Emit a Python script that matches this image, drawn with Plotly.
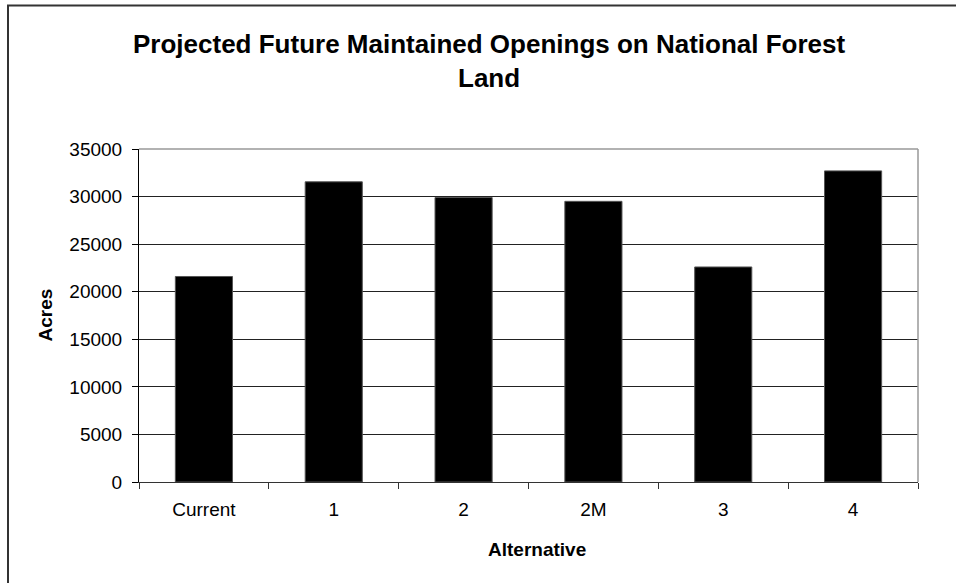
import plotly.graph_objects as go

# Projected maintained openings by alternative (acres)
alternatives = ["Current", "1", "2", "2M", "3", "4"]
acres = [21600, 31550, 29900, 29500, 22600, 32700]
y_ticks = [0, 5000, 10000, 15000, 20000, 25000, 30000, 35000]

FONT = "Liberation Sans, Arial, sans-serif"

fig = go.Figure(
    go.Bar(
        x=alternatives,
        y=acres,
        marker=dict(color="black", line=dict(color="#555555", width=1)),
        width=0.44,
    )
)

fig.update_layout(
    width=956,
    height=583,
    margin=dict(l=139, r=38, t=149, b=101),
    paper_bgcolor="white",
    plot_bgcolor="white",
    showlegend=False,
    font=dict(family=FONT, size=19, color="black"),
    bargap=0.56,
)

fig.update_xaxes(
    type="category",
    showline=True,
    linecolor="#333333",
    linewidth=1,
    ticks="outside",
    tickson="boundaries",
    ticklen=6,
    tickcolor="#333333",
    showgrid=False,
    tickfont=dict(family=FONT, size=19),
    ticklabelstandoff=10,
    mirror=False,
)

fig.update_yaxes(
    range=[0, 35000],
    tickvals=y_ticks,
    tickformat="d",
    showline=True,
    linecolor="black",
    linewidth=1,
    ticks="outside",
    ticklen=6,
    tickcolor="black",
    showgrid=True,
    gridcolor="#222222",
    gridwidth=1,
    zeroline=False,
    tickfont=dict(family=FONT, size=19),
    ticklabelstandoff=6,
)

# Chart title (two lines, centred over the chart area)
fig.add_annotation(
    text="<b>Projected Future Maintained Openings on National Forest<br>Land</b>",
    xref="paper", yref="paper",
    x=(489 - 139) / 779, y=(481.7 - 61) / 332.4,
    showarrow=False, xanchor="center", yanchor="middle", align="center",
    font=dict(family=FONT, size=26, color="black"),
)

# Axis titles
fig.add_annotation(
    text="<b>Alternative</b>", xref="paper", yref="paper",
    x=(537 - 139) / 779, y=-(549 - 481.7) / 332.4,
    showarrow=False, xanchor="center", yanchor="middle",
    font=dict(family=FONT, size=19, color="black"),
)
fig.add_annotation(
    text="<b>Acres</b>", xref="paper", yref="paper",
    x=-(139 - 45) / 779, y=0.5, textangle=-90,
    showarrow=False, xanchor="center", yanchor="middle",
    font=dict(family=FONT, size=19, color="black"),
)

# Plot-area frame (top and right edges in gray)
fig.add_shape(type="line", xref="paper", yref="paper", x0=0, x1=1, y0=1, y1=1,
              line=dict(color="#999999", width=1.5))
fig.add_shape(type="line", xref="paper", yref="paper", x0=1, x1=1, y0=0, y1=1,
              line=dict(color="#999999", width=1.5))

# Chart-area border
fig.add_shape(type="rect", xref="paper", yref="paper",
              x0=-(139 - 8) / 779, x1=1.2, y0=-0.4, y1=(481.7 - 6) / 332.4,
              line=dict(color="#333333", width=2), layer="below")

fig.write_html("out.html")
